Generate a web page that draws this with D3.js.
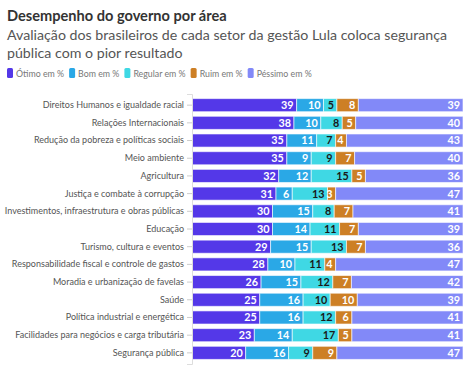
<!DOCTYPE html>
<html>
<head>
<meta charset="utf-8">
<script src="https://cdn.jsdelivr.net/npm/d3@7"></script>
<style>
  body { margin: 0; background: #fff; font-family: Lato, "Noto Sans", sans-serif; }
  svg text { font-family: Lato, "Noto Sans", sans-serif; }
</style>
</head>
<body>
<svg id="chart"></svg>
<script>
let areas = [
    "Direitos Humanos e igualdade racial",
    "Relações Internacionais",
    "Redução da pobreza e políticas sociais",
    "Meio ambiente",
    "Agricultura",
    "Justiça e combate à corrupção",
    "Investimentos, infraestrutura e obras públicas",
    "Educação",
    "Turismo, cultura e eventos",
    "Responsabilidade fiscal e controle de gastos",
    "Moradia e urbanização de favelas",
    "Saúde",
    "Política industrial e energética",
    "Facilidades para negócios e carga tributária",
    "Segurança pública"
];
let otimo   = [39, 38, 35, 35, 32, 31, 30, 30, 29, 28, 26, 25, 25, 23, 20];
let bom     = [10, 10, 11, 9, 12, 6, 15, 14, 15, 10, 15, 16, 16, 14, 16];
let regular = [5, 8, 7, 9, 15, 13, 8, 11, 13, 11, 12, 10, 12, 17, 9];
let ruim    = [8, 5, 4, 7, 5, 3, 7, 7, 7, 4, 7, 10, 6, 5, 9];
let pessimo = [39, 40, 43, 40, 36, 47, 41, 39, 36, 47, 42, 39, 41, 41, 47];
let seriesNames = ["Ótimo em %", "Bom em %", "Regular em %", "Ruim em %", "Péssimo em %"];
let colors = ["#5438e8", "#2aa8e6", "#3fd8e4", "#cd7f25", "#8289f8"];

let width = 470;
let height = 372;
let margin = { top: 94, bottom: 8, left: 192, right: 7 };
let bodyWidth = width - margin.left - margin.right;
let bodyHeight = height - margin.top - margin.bottom;

let keys = ["otimo", "bom", "regular", "ruim", "pessimo"];
let rows = areas.map((a, i) => ({
    area: a, otimo: otimo[i], bom: bom[i], regular: regular[i], ruim: ruim[i], pessimo: pessimo[i]
}));
// each bar is stretched to the full width
let stacked = d3.stack().keys(keys).offset(d3.stackOffsetExpand)(rows);

let svg = d3.select("#chart").attr("width", width).attr("height", height);

// title + subtitle
svg.append("text").attr("x", 7).attr("y", 21)
    .attr("font-size", 14.6).attr("font-weight", "bold").attr("fill", "#333")
    .text("Desempenho do governo por área");
let sub = ["Avaliação dos brasileiros de cada setor da gestão Lula coloca segurança",
           "pública com o pior resultado"];
svg.selectAll(".sub").data(sub).enter().append("text")
    .attr("x", 7).attr("y", (d, i) => 40 + i * 17.5)
    .attr("font-size", 14.2).attr("fill", "#555")
    .text(d => d);

// legend
let lx = 7;
seriesNames.forEach((name, i) => {
    let g = svg.append("g").attr("transform", `translate(${lx},68)`);
    g.append("rect").attr("width", 6).attr("height", 10).attr("rx", 1.5).attr("fill", colors[i]);
    let t = g.append("text").attr("x", 9).attr("y", 8.5)
        .attr("font-size", 8.8).attr("fill", "#777").text(name);
    lx += 9 + t.node().getComputedTextLength() + 5;
});

let xScale = d3.scaleLinear().domain([0, 1]).range([0, bodyWidth]);
let yScale = d3.scaleBand().domain(areas).range([0, bodyHeight]).padding(0.26);

let body = svg.append("g").attr("transform", `translate(${margin.left},${margin.top})`);

let layers = body.selectAll(".layer").data(stacked).enter().append("g")
    .attr("fill", (d, i) => colors[i]);
layers.selectAll("rect").data(d => d).enter().append("rect")
    .attr("x", d => xScale(d[0]))
    .attr("y", d => yScale(d.data.area))
    .attr("width", d => xScale(d[1]) - xScale(d[0]))
    .attr("height", yScale.bandwidth())
    .attr("stroke", "rgba(255,255,255,0.6)")
    .attr("stroke-width", 1);

// value labels, right aligned inside each segment
stacked.forEach((layer, li) => {
    body.append("g").selectAll("text").data(layer).enter().append("text")
        .attr("x", d => xScale(d[1]) - 3)
        .attr("y", d => yScale(d.data.area) + yScale.bandwidth() / 2)
        .attr("dy", "0.36em")
        .attr("text-anchor", "end")
        .attr("font-size", 10.8).attr("font-weight", "bold")
        .attr("fill", li == 2 ? "#1a1a1a" : "#fff")
        .text(d => d.data[layer.key]);
});

let yAxis = body.append("g").call(d3.axisLeft(yScale).tickSize(5).tickPadding(3));
yAxis.select(".domain").attr("stroke", "#ddd");
yAxis.selectAll(".tick line").attr("stroke", "#ccc");
yAxis.selectAll("text").attr("font-size", 9.0).attr("fill", "#555");
</script>
</body>
</html>
